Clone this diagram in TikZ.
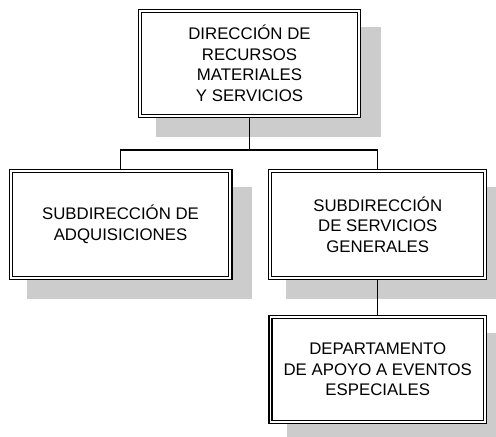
\documentclass[tikz,border=0pt]{standalone}
\usepackage{fontspec}
\setmainfont{Liberation Sans}
\usetikzlibrary{calc}
\pgfdeclarelayer{background}
\pgfsetlayers{background,main}
\definecolor{shadowgray}{RGB}{204,204,204}
\tikzset{
  orgbox/.style={draw=black, line width=1.3pt, double=white, double distance=1.8pt,
    fill=white, rectangle, align=center, inner sep=0pt,
    font=\fontsize{16.8}{20.5}\selectfont},
  conn/.style={draw=black, line width=1.3pt},
  shadowbox/.style={fill=shadowgray}
}
\begin{document}
\begin{tikzpicture}[x=1pt,y=-1pt]
\clip (0,0) rectangle (496,437);
\node[orgbox, minimum width=218.6pt, minimum height=104.6pt] (t) at (249.5,63.5)
  {DIRECCIÓN DE\\RECURSOS\\MATERIALES\\Y SERVICIOS};
\node[orgbox, minimum width=219.6pt, minimum height=106.6pt] (l) at (120.5,224.5)
  {SUBDIRECCIÓN DE\\ADQUISICIONES};
\node[orgbox, minimum width=215pt, minimum height=106.6pt] (r) at (377.75,224.5)
  {SUBDIRECCIÓN\\DE SERVICIOS\\GENERALES};
\node[orgbox, minimum width=214.6pt, minimum height=104.6pt] (b) at (377.75,369.5)
  {DEPARTAMENTO\\DE APOYO A EVENTOS\\ESPECIALES};
\coordinate (j) at (249.5,150);
\begin{pgfonlayer}{background}
  \fill[white] (0,0) rectangle (496,437);
  \foreach \n in {t,l,r,b}{
    \fill[shadowbox] ([xshift=16.8pt,yshift=-16.3pt]\n.north west) rectangle ([xshift=21.2pt,yshift=-20.7pt]\n.south east);
  }
  \draw[conn] (t.south) -- (j);
  \draw[conn] (l.north) |- (j) -| (r.north);
  \draw[conn] (r.south) -- (b.north);
\end{pgfonlayer}
\end{tikzpicture}
\end{document}
